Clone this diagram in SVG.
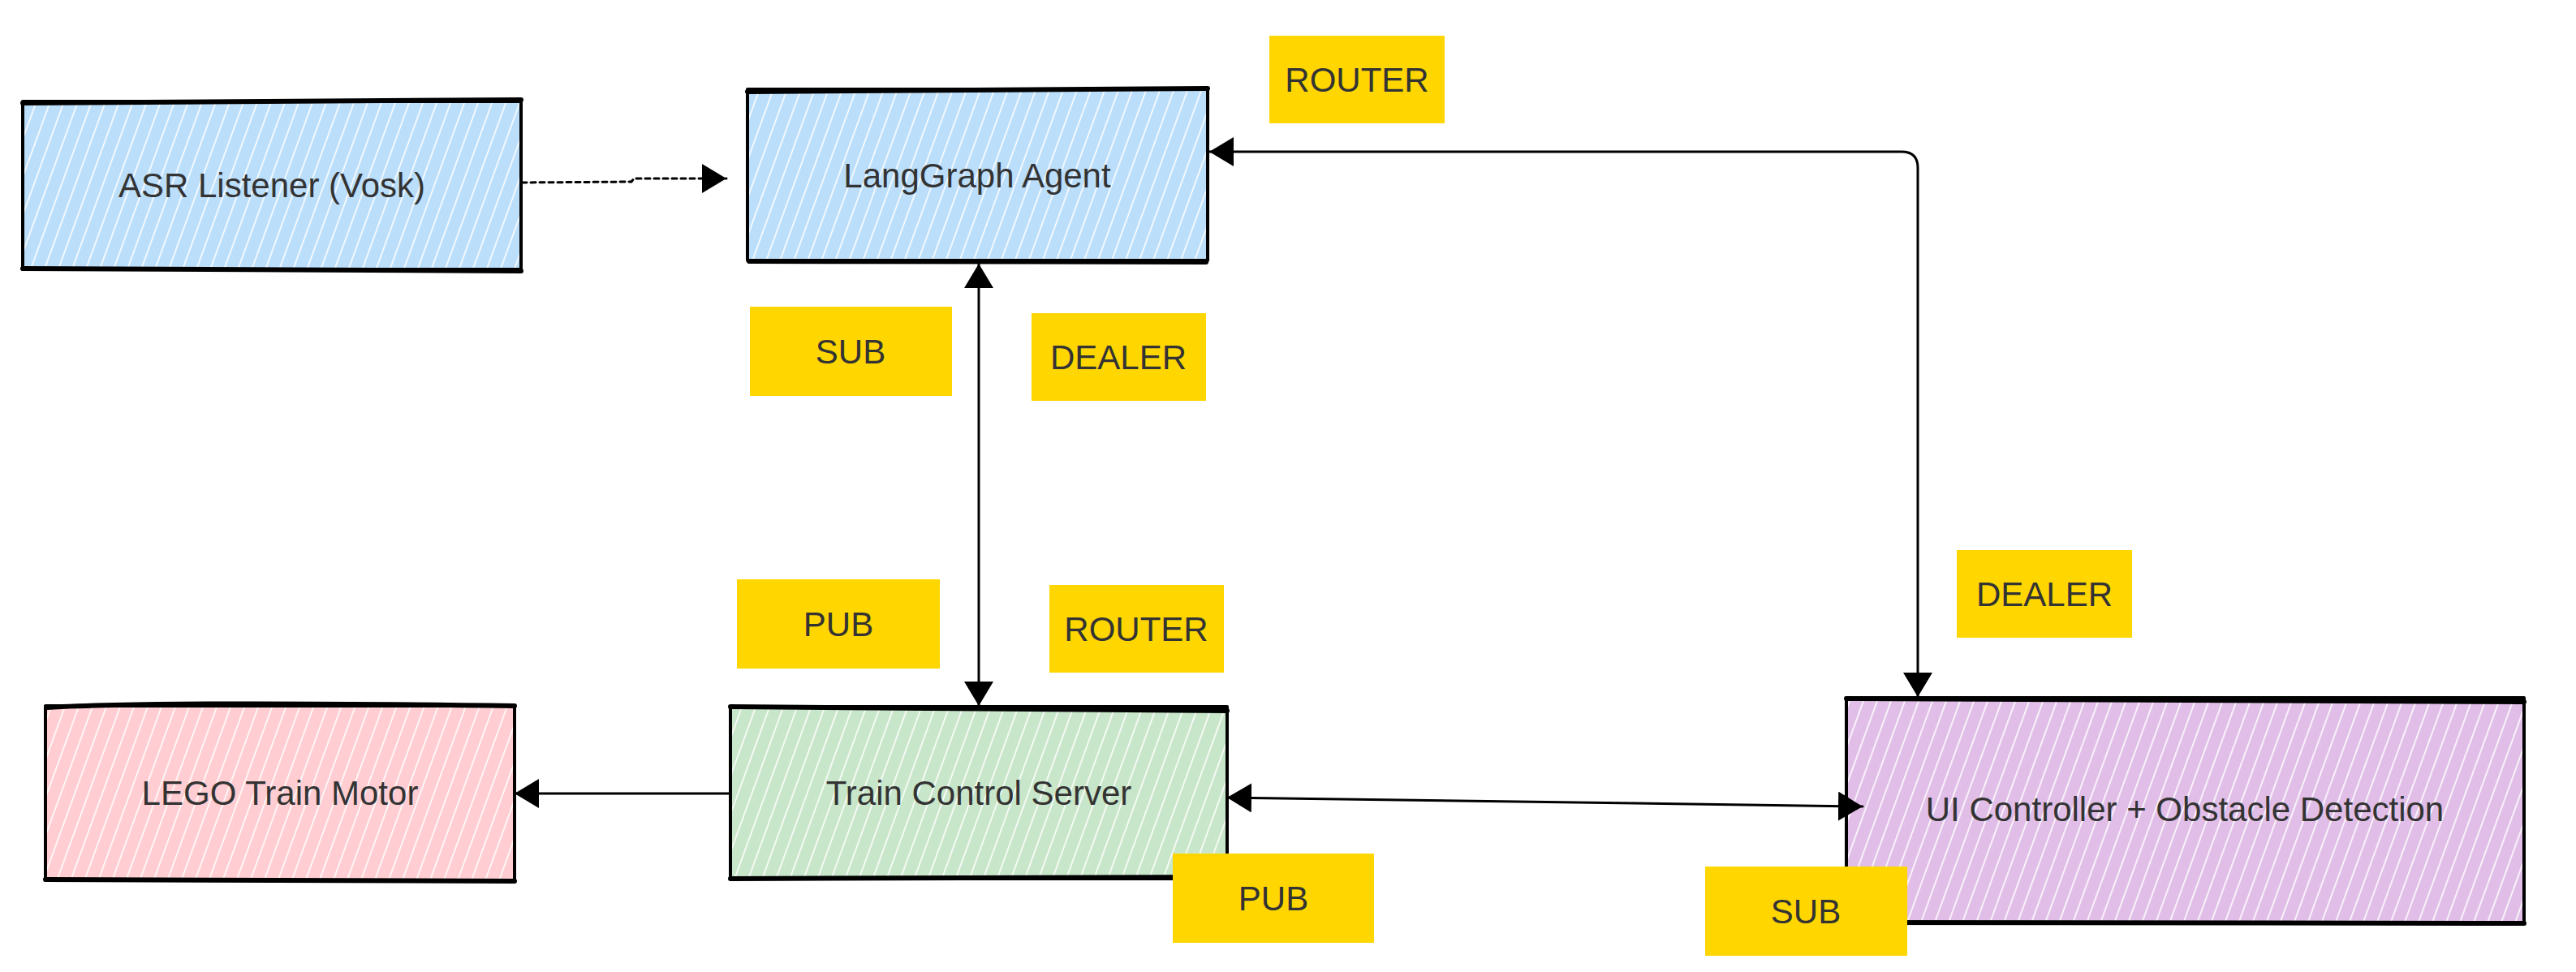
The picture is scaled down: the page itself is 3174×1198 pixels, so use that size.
<svg xmlns="http://www.w3.org/2000/svg" width="3174" height="1198" viewBox="0 0 3174 1198">
<style>
.t{font-family:"Liberation Sans",Arial,sans-serif;font-size:42px;fill:#333333;text-anchor:middle}
.edge{fill:none;stroke:#000;stroke-width:3;stroke-linecap:round;stroke-linejoin:round}
.box{stroke:#000;stroke-width:4;stroke-linejoin:round}
.heavy{fill:none;stroke:#000;stroke-width:6;stroke-linecap:round}
.tag{fill:#FFD600}
</style>
<defs>
<pattern id="hBlue" width="16" height="16" patternUnits="userSpaceOnUse" patternTransform="rotate(20)">
<rect width="16" height="16" fill="#BBDEFB"/><line x1="5" y1="0" x2="5" y2="16" stroke="#fff" stroke-width="1.6"/></pattern>
<pattern id="hPink" width="16" height="16" patternUnits="userSpaceOnUse" patternTransform="rotate(20)">
<rect width="16" height="16" fill="#FFCDD2"/><line x1="5" y1="0" x2="5" y2="16" stroke="#fff" stroke-width="1.6"/></pattern>
<pattern id="hGreen" width="16" height="16" patternUnits="userSpaceOnUse" patternTransform="rotate(20)">
<rect width="16" height="16" fill="#C8E6C9"/><line x1="5" y1="0" x2="5" y2="16" stroke="#fff" stroke-width="1.6"/></pattern>
<pattern id="hPurple" width="16" height="16" patternUnits="userSpaceOnUse" patternTransform="rotate(20)">
<rect width="16" height="16" fill="#E1BEE7"/><line x1="5" y1="0" x2="5" y2="16" stroke="#fff" stroke-width="1.6"/></pattern>
<marker id="arr" markerUnits="userSpaceOnUse" markerWidth="32" markerHeight="36" refX="30" refY="18" orient="auto-start-reverse" viewBox="0 0 32 36">
<path d="M0,0 L30,18 L0,36 Z" fill="#000"/></marker>
</defs>

<g id="asr">
<rect class="box" x="28" y="125" width="614" height="207" fill="url(#hBlue)"/>
<path class="heavy" d="M28,127 L642,123 M28,331 L642,334"/>
<text class="t" x="335" y="243">ASR Listener (Vosk)</text>
</g>
<g id="agent">
<rect class="box" x="921" y="110" width="567" height="211" fill="url(#hBlue)"/>
<path class="heavy" d="M921,113 L1488,109 M923,322 L1486,323"/>
<text class="t" x="1204" y="231">LangGraph Agent</text>
</g>
<g id="lego">
<rect class="box" x="56" y="870" width="578" height="215" fill="url(#hPink)"/>
<path class="heavy" d="M58,872 Q200,864 634,870 M56,1084 L634,1086"/>
<text class="t" x="345" y="992">LEGO Train Motor</text>
</g>
<g id="server">
<rect class="box" x="900" y="871" width="612" height="212" fill="url(#hGreen)"/>
<path class="heavy" d="M900,871 L1512,876 M900,1083 L1512,1081"/>
<text class="t" x="1206" y="992">Train Control Server</text>
</g>
<g id="ui">
<rect class="box" x="2275" y="860" width="835" height="277" fill="url(#hPurple)"/>
<path class="heavy" d="M2275,861 L3110,865 M2275,1137 L3110,1138"/>
<text class="t" x="2692" y="1012">UI Controller + Obstacle Detection</text>
</g>

<g id="connectors">
<path class="edge" d="M643,225 L778,224 L781,220 L895,220" stroke-width="4" stroke-linecap="butt" stroke-dasharray="6 5" marker-end="url(#arr)"/>
<path class="edge" d="M1206,325 L1206,870" marker-start="url(#arr)" marker-end="url(#arr)"/>
<path class="edge" d="M1490,187 L2343,187 Q2363,187 2363,207 L2363,859" marker-start="url(#arr)" marker-end="url(#arr)"/>
<path class="edge" d="M900,978 L634,978" marker-end="url(#arr)"/>
<path class="edge" d="M1512,983 L2295,994" marker-start="url(#arr)" marker-end="url(#arr)"/>
</g>

<g id="tag-router-top"><rect class="tag" x="1564" y="44" width="216" height="108"/><text class="t" x="1672" y="113">ROUTER</text></g>
<g id="tag-sub-top"><rect class="tag" x="924" y="378" width="249" height="110"/><text class="t" x="1048" y="448">SUB</text></g>
<g id="tag-dealer-top"><rect class="tag" x="1271" y="386" width="215" height="108"/><text class="t" x="1378" y="455">DEALER</text></g>
<g id="tag-pub-mid"><rect class="tag" x="908" y="714" width="250" height="110"/><text class="t" x="1033" y="784">PUB</text></g>
<g id="tag-router-mid"><rect class="tag" x="1293" y="721" width="215" height="108"/><text class="t" x="1400" y="790">ROUTER</text></g>
<g id="tag-dealer-right"><rect class="tag" x="2411" y="678" width="216" height="108"/><text class="t" x="2519" y="747">DEALER</text></g>
<g id="tag-pub-bottom"><rect class="tag" x="1445" y="1052" width="248" height="110"/><text class="t" x="1569" y="1122">PUB</text></g>
<g id="tag-sub-bottom"><rect class="tag" x="2101" y="1068" width="249" height="110"/><text class="t" x="2225" y="1138">SUB</text></g>
</svg>
